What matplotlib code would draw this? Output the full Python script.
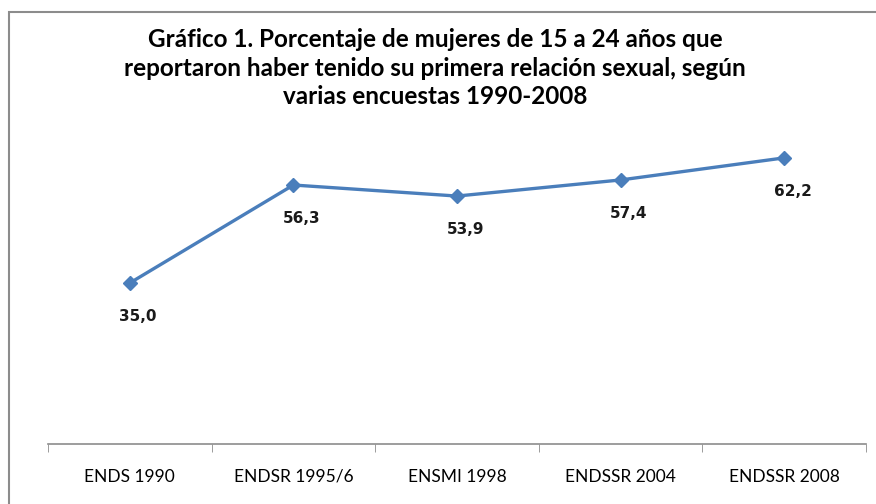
import matplotlib.pyplot as plt
from matplotlib.patches import Rectangle

encuestas = ["ENDS 1990", "ENDSR 1995/6", "ENSMI 1998", "ENDSSR 2004", "ENDSSR 2008"]
porcentaje = [35.0, 56.3, 53.9, 57.4, 62.2]
etiquetas = ["35,0", "56,3", "53,9", "57,4", "62,2"]

plt.rcParams["font.family"] = ["Lato", "DejaVu Sans"]

fig = plt.figure(figsize=(8.76, 5.04), dpi=100, facecolor="white")
ax = fig.add_axes([48 / 876, 60 / 504, 818 / 876, 322 / 504])

x = list(range(len(encuestas)))
ax.plot(x, porcentaje, color="#4A7EBB", lw=2.4, marker="D", ms=7,
        markerfacecolor="#4A7EBB", markeredgecolor="#4A7EBB")

for xi, yi, lab in zip(x, porcentaje, etiquetas):
    ax.annotate(lab, (xi, yi), xytext=(6, -24), textcoords="offset points",
                ha="center", va="center", fontsize=11, fontweight="bold",
                family="DejaVu Sans", color="#1a1a1a")

ax.set_xlim(-0.5, len(encuestas) - 0.5)
ax.set_ylim(0, 70)
ax.set_xticks(x)
ax.set_xticklabels(encuestas, fontsize=12.5)
ax.tick_params(axis="x", length=0, pad=18)
ax.set_xticks([i - 0.5 for i in range(len(encuestas) + 1)], minor=True)
ax.tick_params(axis="x", which="minor", length=6, color="#8C8C8C", direction="out")
ax.set_yticks([])
for s in ["top", "right", "left"]:
    ax.spines[s].set_visible(False)
ax.spines["bottom"].set_color("#8C8C8C")
ax.spines["bottom"].set_linewidth(1.2)

fig.text(435 / 876, 1 - 68 / 504,
         "Gráfico 1. Porcentaje de mujeres de 15 a 24 años que\n"
         "reportaron haber tenido su primera relación sexual, según\n"
         "varias encuestas 1990-2008",
         ha="center", va="center", fontsize=17.5, fontweight="bold", linespacing=1.3)

# borde del gráfico
fig.patches.append(Rectangle((9 / 876, -0.1), 1.0, 1 - 12 / 504 + 0.1,
                             transform=fig.transFigure, fill=False,
                             edgecolor="#8C8C8C", lw=1.5))

fig.savefig("out.png", dpi=100)
